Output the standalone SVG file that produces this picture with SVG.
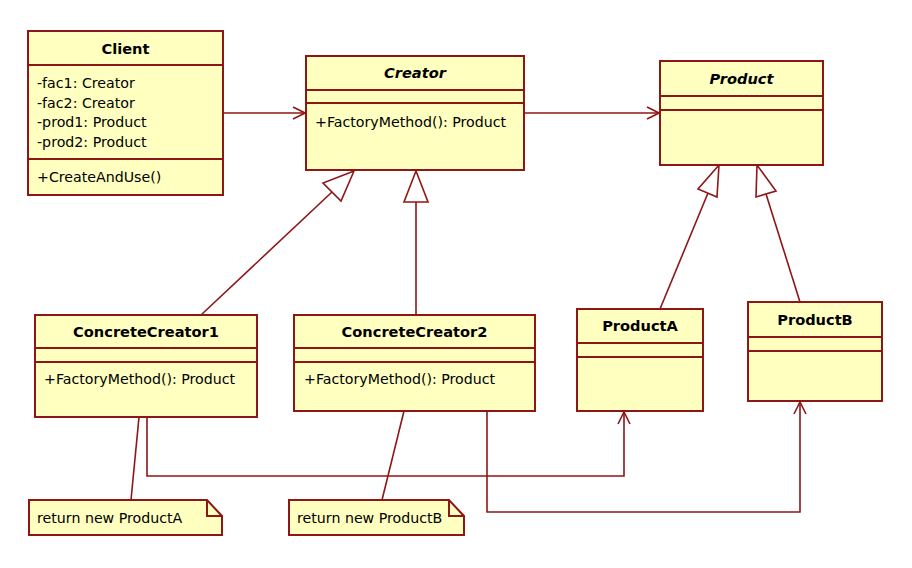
<svg xmlns="http://www.w3.org/2000/svg" width="912" height="568" viewBox="0 0 912 568">
<defs>
<style>
.box{fill:#FFFFC0;stroke:#8E1616;stroke-width:2}
.sep{stroke:#8E1616;stroke-width:2;fill:none}
.ln{stroke:#8E1616;stroke-width:1.6;fill:none}
.tri{stroke:#8E1616;stroke-width:1.6;fill:#ffffff}
.t{font-family:"DejaVu Sans",Verdana,sans-serif;font-size:14.2px;fill:#000}
.b{font-family:"DejaVu Sans",Verdana,sans-serif;font-size:14.6px;font-weight:bold;fill:#000;text-anchor:middle}
.i{font-style:italic}
</style>
<marker id="open" viewBox="0 0 14 14" refX="13" refY="7" markerWidth="14" markerHeight="14" markerUnits="userSpaceOnUse" orient="auto">
<path d="M1,1 L13,7 L1,13" fill="none" stroke="#8E1616" stroke-width="1.6"/>
</marker>
</defs>
<rect width="912" height="568" fill="#ffffff"/>

<g id="connectors">
<line class="ln" x1="223" y1="113" x2="305" y2="113" marker-end="url(#open)"/>
<line class="ln" x1="524" y1="113" x2="659" y2="113" marker-end="url(#open)"/>
<!-- generalizations -->
<line class="ln" x1="201" y1="315" x2="332" y2="192"/>
<polygon class="tri" points="354,171 323,183 341,201"/>
<line class="ln" x1="416" y1="315" x2="416" y2="202"/>
<polygon class="tri" points="416,171 404,202 428,202"/>
<line class="ln" x1="660" y1="309" x2="708" y2="193"/>
<polygon class="tri" points="719,165 698,189 717,197"/>
<line class="ln" x1="800" y1="302" x2="766" y2="194"/>
<polygon class="tri" points="757,165 756,197 776,191"/>
<!-- dependencies -->
<polyline class="ln" points="147,417 147,476 624,476 624,412" marker-end="url(#open)"/>
<polyline class="ln" points="487,411 487,512 800,512 800,402" marker-end="url(#open)"/>
<!-- note anchors -->
<line class="ln" x1="131" y1="500" x2="139" y2="417"/>
<line class="ln" x1="382" y1="500" x2="404" y2="411"/>
</g>

<g id="Client">
<rect class="box" x="28" y="31" width="195" height="164"/>
<line class="sep" x1="28" y1="65" x2="223" y2="65"/>
<line class="sep" x1="28" y1="159" x2="223" y2="159"/>
<text class="b" x="125.5" y="54">Client</text>
<text class="t" x="37" y="88">-fac1: Creator</text>
<text class="t" x="37" y="108">-fac2: Creator</text>
<text class="t" x="37" y="127">-prod1: Product</text>
<text class="t" x="37" y="147">-prod2: Product</text>
<text class="t" x="37" y="182">+CreateAndUse()</text>
</g>

<g id="Creator">
<rect class="box" x="306" y="56" width="218" height="114"/>
<line class="sep" x1="306" y1="90" x2="524" y2="90"/>
<line class="sep" x1="306" y1="103" x2="524" y2="103"/>
<text class="b i" x="415" y="78">Creator</text>
<text class="t" x="315" y="127">+FactoryMethod(): Product</text>
</g>

<g id="Product">
<rect class="box" x="660" y="61" width="163" height="104"/>
<line class="sep" x1="660" y1="96" x2="823" y2="96"/>
<line class="sep" x1="660" y1="110" x2="823" y2="110"/>
<text class="b i" x="741.5" y="84">Product</text>
</g>

<g id="ConcreteCreator1">
<rect class="box" x="35" y="315" width="222" height="102"/>
<line class="sep" x1="35" y1="348" x2="257" y2="348"/>
<line class="sep" x1="35" y1="362" x2="257" y2="362"/>
<text class="b" x="146" y="337">ConcreteCreator1</text>
<text class="t" x="44" y="384">+FactoryMethod(): Product</text>
</g>

<g id="ConcreteCreator2">
<rect class="box" x="294" y="315" width="241" height="96"/>
<line class="sep" x1="294" y1="348" x2="535" y2="348"/>
<line class="sep" x1="294" y1="362" x2="535" y2="362"/>
<text class="b" x="414.5" y="337">ConcreteCreator2</text>
<text class="t" x="304" y="384">+FactoryMethod(): Product</text>
</g>

<g id="ProductA">
<rect class="box" x="577" y="309" width="126" height="102"/>
<line class="sep" x1="577" y1="343" x2="703" y2="343"/>
<line class="sep" x1="577" y1="357" x2="703" y2="357"/>
<text class="b" x="640" y="331">ProductA</text>
</g>

<g id="ProductB">
<rect class="box" x="748" y="302" width="134" height="99"/>
<line class="sep" x1="748" y1="337" x2="882" y2="337"/>
<line class="sep" x1="748" y1="351" x2="882" y2="351"/>
<text class="b" x="815" y="325">ProductB</text>
</g>

<g id="NoteA">
<path class="box" d="M29,500 H207 L222,516 V535 H29 Z"/>
<path class="sep" d="M207,500 V516 H222"/>
<text class="t" x="37" y="523">return new ProductA</text>
</g>

<g id="NoteB">
<path class="box" d="M289,500 H449 L464,516 V535 H289 Z"/>
<path class="sep" d="M449,500 V516 H464"/>
<text class="t" x="297" y="523">return new ProductB</text>
</g>
</svg>
